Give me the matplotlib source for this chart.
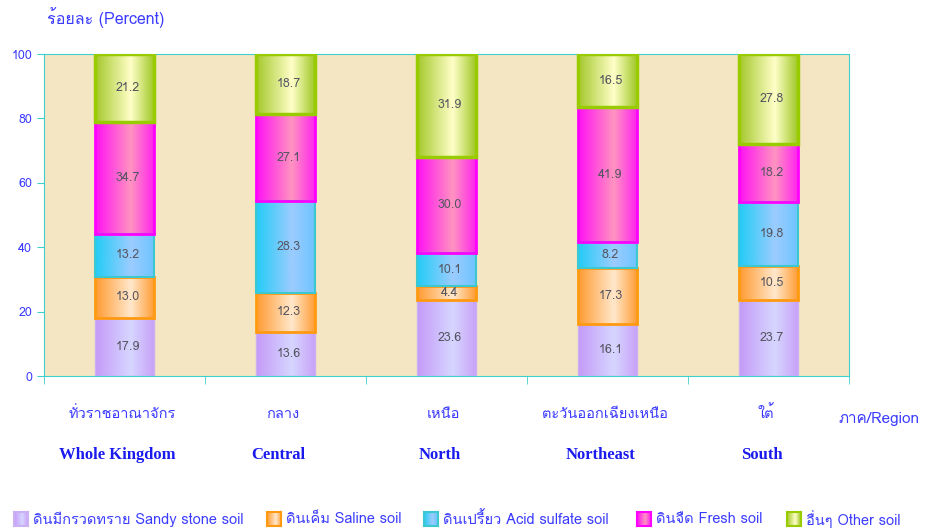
import numpy as np
import matplotlib
matplotlib.use("Agg")
import matplotlib.pyplot as plt
from matplotlib import font_manager
from matplotlib.ft2font import FT2Font
from matplotlib.colors import LinearSegmentedColormap

# --- data ---
regions_th = ["ทั่วราชอาณาจักร", "กลาง", "เหนือ", "ตะวันออกเฉียงเหนือ", "ใต้"]
regions_en = ["Whole Kingdom", "Central", "North", "Northeast", "South"]
soil_names = ["ดินมีกรวดทราย Sandy stone soil", "ดินเค็ม Saline soil",
              "ดินเปรี้ยว Acid sulfate soil", "ดินจืด Fresh soil", "อื่นๆ Other soil"]
sandy = [17.9, 13.6, 23.6, 16.1, 23.7]
saline = [13.0, 12.3, 4.4, 17.3, 10.5]
acid = [13.2, 28.3, 10.1, 8.2, 19.8]
fresh = [34.7, 27.1, 30.0, 41.9, 18.2]
other = [21.2, 18.7, 31.9, 16.5, 27.8]
series = [sandy, saline, acid, fresh, other]
yticks = [0, 20, 40, 60, 80, 100]

# gradient colours (left, centre, right) and outline per soil type
grad = [("#c49af8", "#d6d6ff", "#c8a0f8"),
        ("#ff9a30", "#ffe8cc", "#ff9a30"),
        ("#22ccf6", "#9cccff", "#6cc4ff"),
        ("#ff10f4", "#ff94c0", "#ff20f0"),
        ("#a4c82a", "#ffffc8", "#9cc620")]
outline = ["#cbb0f2", "#ff9a10", "#3cc8d0", "#ff00ff", "#99cc00"]
outline_w = [1.0, 2.0, 1.5, 2.0, 2.5]


def find_thai_font():
    for f in font_manager.fontManager.ttflist:
        try:
            if FT2Font(f.fname).get_char_index(0x0E01):
                return f.name
        except Exception:
            continue
    return None


def ramp_cmap(name, cols):
    return LinearSegmentedColormap.from_list(
        name, [(0.0, cols[0]), (0.6, cols[1]), (1.0, cols[2])], N=256)


thai = find_thai_font()
fam = [thai, "DejaVu Sans"] if thai else ["DejaVu Sans"]
plt.rcParams["font.family"] = fam

blue = "#3b3bff"
spine = "#3fcfcf"

fig = plt.figure(figsize=(9.32, 5.31), dpi=100)
ax = fig.add_axes([0.0472, 0.2919, 0.8637, 0.6064])
ax.set_facecolor("#f4e6c2")

x = np.arange(len(regions_en))
width = 0.37
ramp = np.linspace(0, 1, 256).reshape(1, -1)
bottom = np.zeros(len(x))
for i, vals in enumerate(series):
    bars = ax.bar(x, vals, width, bottom=bottom, facecolor="none",
                  edgecolor=outline[i], linewidth=outline_w[i], zorder=3)
    cmap = ramp_cmap("g%d" % i, grad[i])
    for b, v in zip(bars, vals):
        x0, y0 = b.get_x(), b.get_y()
        ax.imshow(ramp, cmap=cmap, extent=[x0, x0 + b.get_width(), y0, y0 + v],
                  aspect="auto", zorder=2, interpolation="bicubic")
        ax.text(x0 + b.get_width() * 0.55, y0 + v / 2, "%.1f" % v,
                ha="center", va="center", fontsize=9, color="#555560", zorder=4)
    bottom += np.array(vals)

ax.set_xlim(-0.5, len(x) - 0.5)
ax.set_ylim(0, 100)
ax.set_yticks(yticks)
ax.tick_params(axis="y", colors=spine, labelcolor=blue, labelsize=9, length=5)
ax.set_xticks(x)
ax.set_xticklabels([])
ax.tick_params(axis="x", which="major", length=0)
ax.set_xticks(np.arange(-0.5, len(x)), minor=True)
ax.tick_params(axis="x", which="minor", colors=spine, length=6)
for s in ax.spines.values():
    s.set_color(spine)

for xi, th, en in zip(x, regions_th, regions_en):
    ax.annotate(th, (xi, 0), xytext=(-2, -27), textcoords="offset points",
                ha="center", va="center", fontsize=10.5, color=blue,
                annotation_clip=False)
    ax.annotate(en, (xi, 0), xytext=(-5, -57), textcoords="offset points",
                ha="center", va="center", fontsize=12, color="#1a1aee",
                fontweight="bold", family="Liberation Serif",
                annotation_clip=False)

fig.text(0.90, 1 - 419 / 531, "ภาค/Region", ha="left", va="center",
         fontsize=11, color=blue)
fig.text(0.05, 1 - 18 / 531, "ร้อยละ (Percent)", ha="left", va="center",
         fontsize=11.5, color=blue)

# legend with small gradient squares
lx = [14, 267, 424, 637, 787]
ly = 1 - 519 / 531
for i, name in enumerate(soil_names):
    px = lx[i] / 932
    sq = fig.add_axes([px, ly - 7 / 531, 14 / 932, 14 / 531])
    sq.imshow(np.linspace(0, 1, 64).reshape(1, -1), cmap=ramp_cmap("l%d" % i, grad[i]),
              aspect="auto", interpolation="bicubic")
    sq.set_xticks([])
    sq.set_yticks([])
    for s in sq.spines.values():
        s.set_color(outline[i])
        s.set_linewidth(1.5)
    fig.text(px + 19 / 932, ly, name, ha="left", va="center",
             fontsize=10.5, color=blue)

fig.savefig("out.png", dpi=100)
